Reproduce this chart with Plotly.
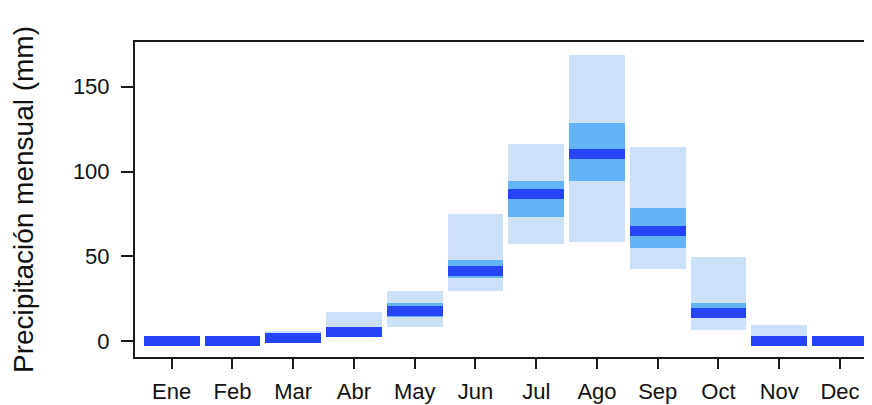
import plotly.graph_objects as go

months = ["Ene", "Feb", "Mar", "Abr", "May", "Jun", "Jul", "Ago", "Sep", "Oct", "Nov", "Dec"]
outer_low = [0, 0, 0, 2.2, 8.5, 29.7, 57.0, 58.6, 42.5, 6.5, 0, 0]
outer_high = [0, 0, 6.0, 17.3, 29.7, 74.9, 116.2, 168.7, 114.3, 49.4, 9.6, 0]
inner_low = [0, 0, 1.0, 3.0, 14.0, 37.0, 73.0, 94.6, 55.0, 13.4, 0, 0]
inner_high = [0, 0, 4.0, 8.0, 22.6, 47.8, 94.6, 128.8, 78.3, 22.6, 2.0, 0]
median = [0, 0, 2.0, 5.5, 17.7, 41.5, 86.7, 110.1, 65.1, 16.3, 0, 0]

x = list(range(1, 13))
BW = 0.92
MED_H = 5.9

fig = go.Figure()
fig.add_trace(go.Bar(x=x, y=[h - l for h, l in zip(outer_high, outer_low)], base=outer_low,
                     width=BW, marker=dict(color="#cce0f8", line=dict(width=0)), showlegend=False))
fig.add_trace(go.Bar(x=x, y=[h - l for h, l in zip(inner_high, inner_low)], base=inner_low,
                     width=BW, marker=dict(color="#63b4f6", line=dict(width=0)), showlegend=False))
fig.add_trace(go.Bar(x=x, y=[MED_H] * 12, base=[m - MED_H / 2 for m in median],
                     width=BW, marker=dict(color="#2444f5", line=dict(width=0)), showlegend=False))

# page body has an 8px margin, so the figure is 8px smaller and margins compensate
fig.update_layout(
    width=864, height=397,
    margin=dict(l=127, r=0, t=34, b=48),
    barmode="overlay",
    paper_bgcolor="white", plot_bgcolor="white",
    font=dict(family="Liberation Sans, Arial, sans-serif", size=22, color="#111111"),
    bargap=0,
)
fig.update_xaxes(
    range=[0.396, 12.527], tickmode="array", tickvals=x, ticktext=months,
    showgrid=False, zeroline=False, showline=True, linecolor="#1a1a1a", linewidth=2,
    mirror=True, ticks="outside", ticklen=10, tickwidth=2, tickcolor="#1a1a1a",
    ticklabelstandoff=4, automargin=False,
)
fig.update_yaxes(
    range=[-9.4, 176.4], tickvals=[0, 50, 100, 150],
    showgrid=False, zeroline=False, showline=True, linecolor="#1a1a1a", linewidth=2,
    ticks="outside", ticklen=12, tickwidth=2, tickcolor="#1a1a1a",
    ticklabelstandoff=7, automargin=False,
    title=dict(text="Precipitación mensual (mm)", font=dict(size=28), standoff=38),
)
fig.write_html("out.html")
